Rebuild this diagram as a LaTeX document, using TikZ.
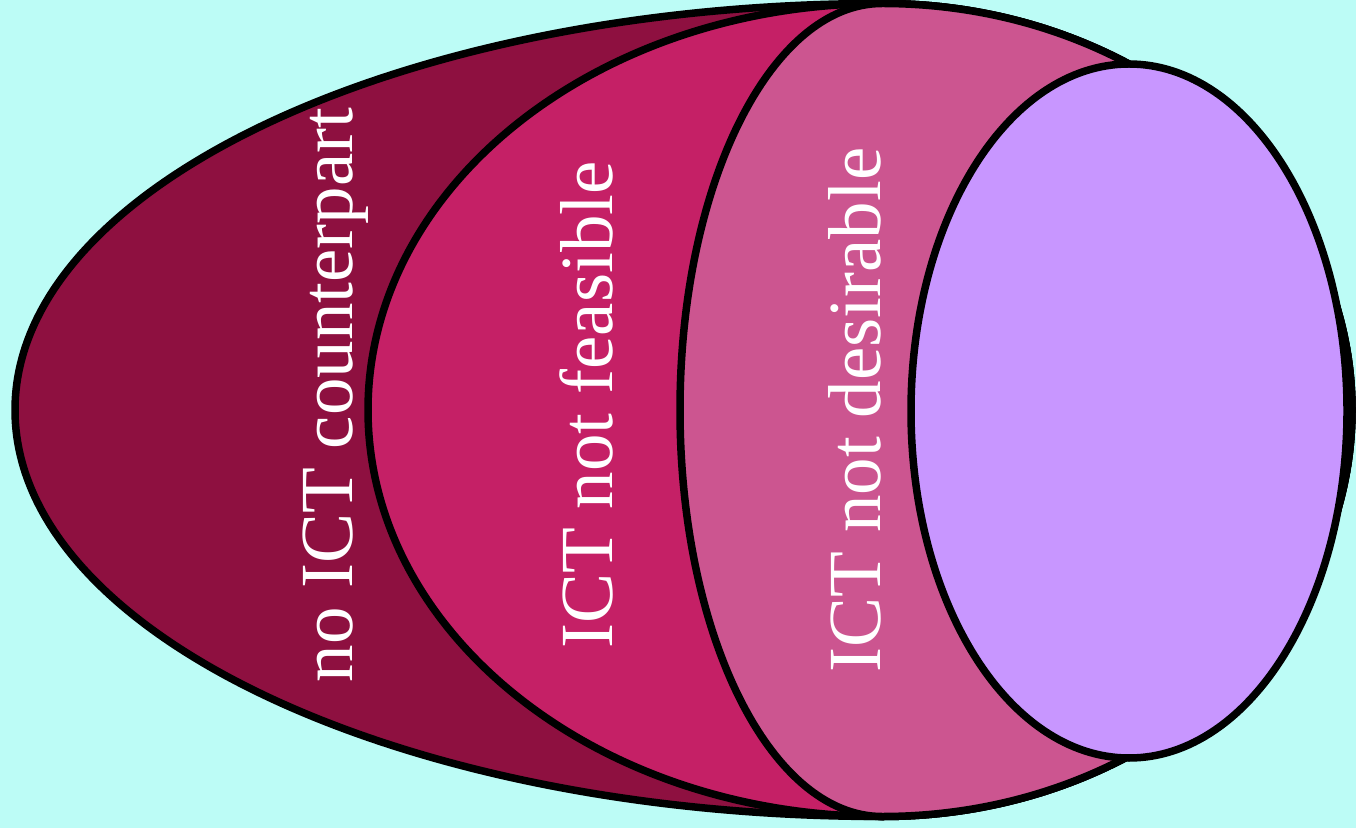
\documentclass[tikz,border=0pt]{standalone}
\usepackage{fontspec}
\setmainfont{LiberationSerif}[Extension=.ttf, UprightFont=*-Regular, BoldFont=*-Bold, ItalicFont=*-Italic, BoldItalicFont=*-BoldItalic]
\definecolor{bgcyan}{RGB}{188,252,246}
\definecolor{shellA}{RGB}{142,16,64}
\definecolor{shellB}{RGB}{197,32,102}
\definecolor{shellC}{RGB}{204,85,144}
\definecolor{corePurple}{RGB}{200,150,255}
\tikzset{
  shell/.style={draw=black, line width=7.5pt, line join=round},
  lbl/.style={text=white, font=\fontsize{75}{80}\selectfont, rotate=90, anchor=base, inner sep=0pt}
}
\begin{document}
\begin{tikzpicture}[x=1pt,y=1pt]
\useasboundingbox (0,0) rectangle (1356,828);
\fill[bgcyan] (0,0) rectangle (1356,828);
% outer shell
\path[shell, fill=shellA] (882,824.5) arc[start angle=90, end angle=270, x radius=867, y radius=406.5]
  arc[start angle=270, end angle=450, x radius=470, y radius=406.5] -- cycle;
% middle shell
\path[shell, fill=shellB] (882,824.5) arc[start angle=90, end angle=270, x radius=514, y radius=406.5]
  arc[start angle=270, end angle=450, x radius=470, y radius=406.5] -- cycle;
% inner shell
\path[shell, fill=shellC] (882,824.5) arc[start angle=90, end angle=270, x radius=202, y radius=406.5]
  arc[start angle=270, end angle=450, x radius=470, y radius=406.5] -- cycle;
% core
\path[shell, fill=corePurple] (1129,417) ellipse[x radius=218, y radius=347];
% labels
\node[lbl] (noict) at (352,433) {no ICT counterpart};
\node[lbl] (notfeas) at (612,423) {ICT not feasible};
\node[lbl] (notdes) at (880,418) {ICT not desirable};
\end{tikzpicture}
\end{document}
